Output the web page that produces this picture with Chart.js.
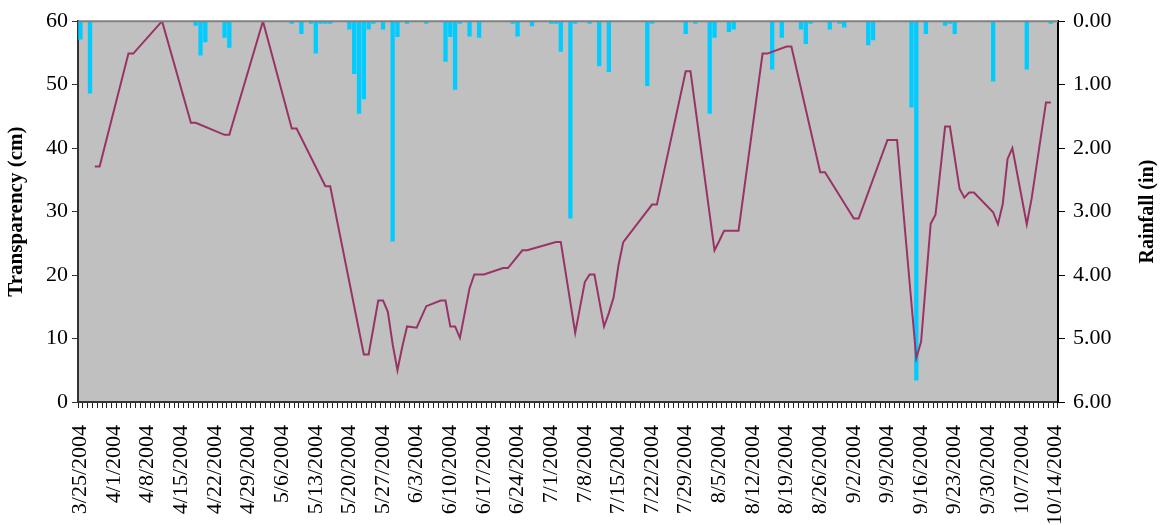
<!DOCTYPE html>
<html><head><meta charset="utf-8">
<script src="https://cdn.jsdelivr.net/npm/chart.js@4.4.1/dist/chart.umd.min.js"></script>
<style>html,body{margin:0;padding:0;background:#fff}#wrap{width:1160px;height:525px}</style>
</head><body><div id="wrap"><canvas id="c" width="1160" height="525"></canvas></div>
<script>
// Weekly tick labels shown on the category axis
const tickLabels = ['3/25/2004','4/1/2004','4/8/2004','4/15/2004','4/22/2004','4/29/2004','5/6/2004','5/13/2004','5/20/2004','5/27/2004','6/3/2004','6/10/2004','6/17/2004','6/24/2004','7/1/2004','7/8/2004','7/15/2004','7/22/2004','7/29/2004','8/5/2004','8/12/2004','8/19/2004','8/26/2004','9/2/2004','9/9/2004','9/16/2004','9/23/2004','9/30/2004','10/7/2004','10/14/2004'];
const firstDay = '3/25/2004';
const lastDay = '10/14/2004';

// Transparency (cm) measurements
const transDates = ['3/28/2004','3/29/2004','4/4/2004','4/5/2004','4/11/2004','4/17/2004','4/18/2004','4/24/2004','4/25/2004','5/2/2004','5/8/2004','5/9/2004','5/15/2004','5/16/2004','5/23/2004','5/24/2004','5/26/2004','5/27/2004','5/28/2004','5/29/2004','5/30/2004','5/31/2004','6/1/2004','6/3/2004','6/5/2004','6/8/2004','6/9/2004','6/10/2004','6/11/2004','6/12/2004','6/14/2004','6/15/2004','6/17/2004','6/21/2004','6/22/2004','6/25/2004','6/26/2004','7/2/2004','7/3/2004','7/6/2004','7/8/2004','7/9/2004','7/10/2004','7/12/2004','7/13/2004','7/14/2004','7/15/2004','7/16/2004','7/22/2004','7/23/2004','7/29/2004','7/30/2004','8/4/2004','8/5/2004','8/6/2004','8/9/2004','8/14/2004','8/15/2004','8/19/2004','8/20/2004','8/26/2004','8/27/2004','9/2/2004','9/3/2004','9/9/2004','9/11/2004','9/15/2004','9/16/2004','9/18/2004','9/19/2004','9/21/2004','9/22/2004','9/23/2004','9/24/2004','9/25/2004','9/26/2004','9/27/2004','10/1/2004','10/2/2004','10/3/2004','10/4/2004','10/5/2004','10/8/2004','10/9/2004','10/12/2004','10/13/2004'];
const transValues = [37.1,37.1,54.9,54.9,60,44.0,44.0,42.1,42.1,60,43.1,43.1,34.0,34.0,7.5,7.5,16.0,16.0,14.2,9.1,5.0,8.7,11.9,11.7,15.1,16.0,16.0,11.9,11.9,10.1,17.9,20.1,20.1,21.1,21.1,23.9,23.9,25.2,25.2,10.9,18.9,20.1,20.1,11.9,14.0,16.5,21.5,25.2,31.1,31.1,52.1,52.1,23.9,25.4,27.0,27.0,54.9,54.9,56.0,56.0,36.2,36.2,28.9,28.9,41.3,41.3,6.9,9.5,28.1,29.5,43.4,43.4,38.5,33.6,32.2,33.0,33.0,29.9,28.0,31.2,38.3,40.0,28.0,32.0,47.2,47.2];

// Rainfall (in) daily totals
const rainDates = ['3/25/2004','3/27/2004','4/18/2004','4/19/2004','4/20/2004','4/24/2004','4/25/2004','5/8/2004','5/10/2004','5/12/2004','5/13/2004','5/14/2004','5/15/2004','5/16/2004','5/20/2004','5/21/2004','5/22/2004','5/23/2004','5/24/2004','5/25/2004','5/27/2004','5/29/2004','5/30/2004','6/1/2004','6/5/2004','6/9/2004','6/10/2004','6/11/2004','6/12/2004','6/14/2004','6/16/2004','6/23/2004','6/24/2004','6/27/2004','7/1/2004','7/2/2004','7/3/2004','7/5/2004','7/6/2004','7/9/2004','7/11/2004','7/13/2004','7/21/2004','7/22/2004','7/29/2004','7/31/2004','8/3/2004','8/4/2004','8/7/2004','8/8/2004','8/16/2004','8/18/2004','8/22/2004','8/23/2004','8/24/2004','8/28/2004','8/30/2004','8/31/2004','9/5/2004','9/6/2004','9/14/2004','9/15/2004','9/17/2004','9/21/2004','9/22/2004','9/23/2004','10/1/2004','10/8/2004','10/13/2004'];
const rainValues = [0.29,1.14,0.07,0.54,0.33,0.26,0.42,0.04,0.20,0.04,0.51,0.04,0.04,0.04,0.13,0.83,1.46,1.23,0.13,0.04,0.13,3.47,0.25,0.04,0.04,0.64,0.25,1.08,0.04,0.24,0.26,0.04,0.24,0.08,0.04,0.04,0.48,3.11,0.04,0.04,0.71,0.80,1.02,0.04,0.20,0.04,1.46,0.26,0.17,0.13,0.76,0.26,0.13,0.36,0.04,0.13,0.04,0.10,0.38,0.30,1.36,5.66,0.20,0.07,0.04,0.20,0.95,0.76,0.04];

const leftTitle = 'Transparency (cm)';
const rightTitle = 'Rainfall (in)';

// Build the daily category axis
function parseD(s){const [m,d,y]=s.split('/').map(Number);return new Date(y,m-1,d);}
function fmt(dt){return (dt.getMonth()+1)+'/'+dt.getDate()+'/'+dt.getFullYear();}
const categories = [];
for (let dt = parseD(firstDay); dt <= parseD(lastDay); dt.setDate(dt.getDate()+1)) categories.push(fmt(dt));
function toSeries(dates, vals){const m={};dates.forEach((d,i)=>m[d]=vals[i]);return categories.map(c=>c in m?m[c]:null);}
const transSeries = toSeries(transDates, transValues);
const rainSeries = toSeries(rainDates, rainValues);
const tickSet = new Set(tickLabels);

const FONT = "'Liberation Serif','Times New Roman',serif";

const bgPlugin = {
  id:'bg',
  beforeDraw(chart){
    const {ctx, chartArea:a} = chart;
    ctx.save(); ctx.fillStyle = '#C0C0C0';
    ctx.fillRect(a.left, a.top, a.right-a.left, a.bottom-a.top);
    ctx.restore();
  },
  afterDraw(chart){
    const {ctx, chartArea:a} = chart;
    ctx.save(); ctx.strokeStyle = '#808080'; ctx.lineWidth = 2;
    ctx.beginPath(); ctx.moveTo(a.left, a.top); ctx.lineTo(a.right, a.top); ctx.stroke();
    // right axis title, reading bottom-to-top
    const s = chart.scales.y2;
    ctx.translate(s.right - 12, (a.top + a.bottom) / 2);
    ctx.rotate(-Math.PI / 2);
    ctx.fillStyle = '#000';
    ctx.font = "bold 20px " + FONT;
    ctx.textAlign = 'center'; ctx.textBaseline = 'middle';
    ctx.fillText(rightTitle, 0, 0);
    ctx.restore();
  }
};

new Chart(document.getElementById('c'), {
  type: 'bar',
  data: {
    labels: categories,
    datasets: [
      { type:'line', label:leftTitle, data: transSeries, yAxisID:'y',
        borderColor:'#993366', borderWidth:2, pointRadius:0, spanGaps:true, tension:0, order:0 },
      { type:'bar', label:rightTitle, data: rainSeries, yAxisID:'y2',
        backgroundColor:'#00CCFF', barPercentage:0.9, categoryPercentage:1.0, order:1 }
    ]
  },
  options: {
    responsive:false, animation:false, devicePixelRatio:1,
    layout:{ padding:{ top:20, left:0, right:0, bottom:0 } },
    plugins:{ legend:{display:false}, tooltip:{enabled:false} },
    scales:{
      x:{
        type:'category', offset:true,
        grid:{ display:true, drawOnChartArea:false, drawTicks:true, tickLength:6, color:'#222', offset:true },
        border:{ display:true, color:'#333', width:2 },
        ticks:{ autoSkip:false, maxRotation:90, minRotation:90, color:'#000', padding:17,
          font:{ family:FONT, size:22 },
          callback(v, i){ const c = categories[i]; return tickSet.has(c) ? c : ''; } },
        afterFit(s){ s.height = 123; }
      },
      y:{
        position:'left', min:0, max:60,
        ticks:{ stepSize:10, color:'#000', padding:4, font:{ family:FONT, size:22 } },
        grid:{ drawOnChartArea:false, tickLength:6, color:'#333' },
        border:{ color:'#333', width:2 },
        title:{ display:true, text:leftTitle, color:'#000', padding:{top:4,bottom:0},
          font:{ family:FONT, size:21, weight:'bold' } },
        afterFit(s){ s.width = 78; }
      },
      y2:{
        position:'right', min:0, max:6, reverse:true,
        ticks:{ stepSize:1, color:'#000', padding:8, font:{ family:FONT, size:22 },
          callback(v){ return Number(v).toFixed(2); } },
        grid:{ drawOnChartArea:false, tickLength:7, color:'#000' },
        border:{ color:'#000', width:2 },
        title:{ display:false },
        afterFit(s){ s.width = 102; }
      }
    }
  },
  plugins:[bgPlugin]
});
</script>
</body></html>
